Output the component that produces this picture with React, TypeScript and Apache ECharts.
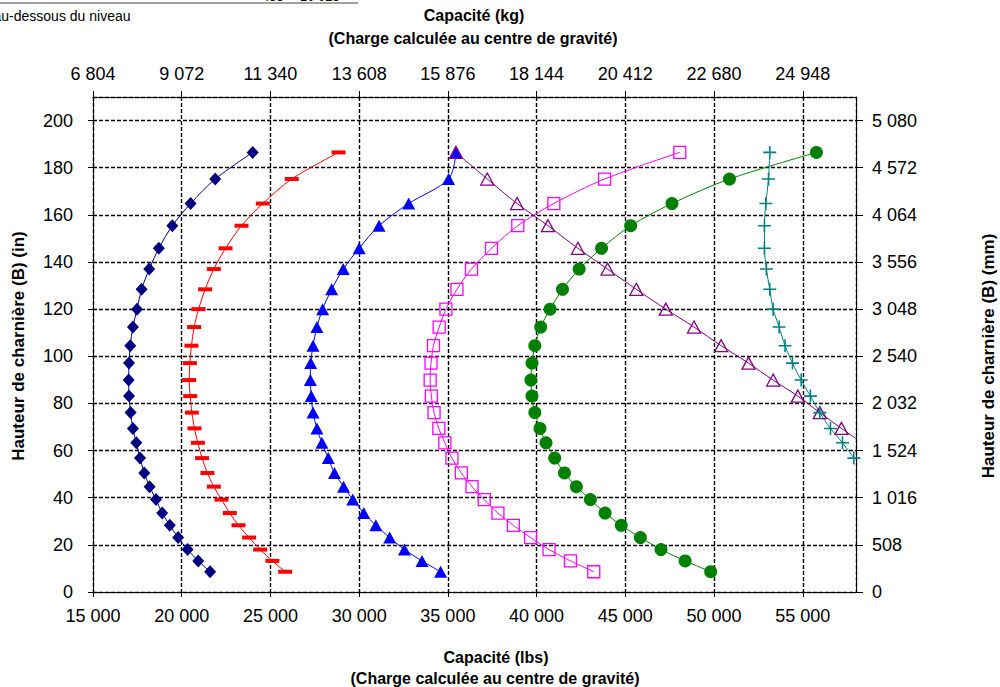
import React, { useEffect, useRef } from "react";
import * as echarts from "echarts";

// Hinge heights (in), bottom to top
const heightsIn = [8.6, 13.2, 18.0, 23.1, 28.3, 33.5, 39.2, 44.7, 50.5, 56.8, 63.3, 69.4, 76.1, 83.1, 89.9, 97.1, 104.5, 112.4, 120.0, 128.4, 137.0, 145.8, 155.4, 164.8, 175.2, 186.5];

// Capacities (lbs) for each series, same order as heights
const navyLbs = [21600, 20930, 20330, 19800, 19330, 18900, 18550, 18190, 17890, 17650, 17440, 17250, 17120, 17030, 17010, 17030, 17100, 17250, 17480, 17740, 18170, 18710, 19470, 20500, 21890, 24000];
const redLbs = [25830, 25110, 24420, 23800, 23200, 22710, 22240, 21810, 21450, 21150, 20910, 20720, 20570, 20480, 20420, 20460, 20550, 20700, 20950, 21320, 21810, 22470, 23370, 24570, 26200, 28840];
const blueLbs = [34590, 33540, 32550, 31720, 30940, 30260, 29640, 29120, 28610, 28260, 27900, 27620, 27400, 27300, 27250, 27270, 27400, 27620, 27940, 28450, 29100, 30000, 31120, 32790, 35040, 35470];
const magentaLbs = [43220, 41910, 40700, 39660, 38690, 37820, 37050, 36360, 35760, 35230, 34830, 34490, 34220, 34070, 34000, 34050, 34190, 34510, 34890, 35510, 36330, 37460, 38940, 40970, 43830, 48070];
const greenLbs = [49810, 48370, 47010, 45850, 44770, 43860, 43030, 42240, 41570, 41020, 40530, 40190, 39900, 39740, 39680, 39740, 39900, 40230, 40760, 41460, 42400, 43660, 45300, 47630, 50870, 55770];
// purple starts at heightsIn[10], teal at heightsIn[9]
const purpleOffset = 10;
const purpleLbs = [58350, 57180, 55960, 54720, 53330, 51940, 50400, 48870, 47280, 45620, 44000, 42330, 40640, 38900, 37220, 35450];
const tealOffset = 9;
const tealLbs = [57880, 57240, 56560, 55960, 55430, 54910, 54420, 54000, 53670, 53330, 53140, 52950, 52840, 52840, 52920, 53070, 53140];

// Tick labels
const lbsTickLabels = ["15 000", "20 000", "25 000", "30 000", "35 000", "40 000", "45 000", "50 000", "55 000"];
const kgTickLabels = ["6 804", "9 072", "11 340", "13 608", "15 876", "18 144", "20 412", "22 680", "24 948"];
const inTickLabels = ["0", "20", "40", "60", "80", "100", "120", "140", "160", "180", "200"];
const mmTickLabels = ["0", "508", "1 016", "1 524", "2 032", "2 540", "3 048", "3 556", "4 064", "4 572", "5 080"];

const X_MIN = 15000;
const X_MAX = 58000;
const X_STEP = 5000;
const Y_MIN = 0;
const Y_MAX = 210;
const Y_STEP = 20;

const FONT = '"Liberation Sans", Arial, Helvetica, sans-serif';
const PLUS = "path://M0,4.4h10v1.2h-10z M4.4,0h1.2v10h-1.2z";

function pairs(xs: number[], offset: number) {
  return xs.map((x, i) => [x, heightsIn[i + offset]]);
}

function mk(name: string, xs: number[], offset: number, color: string, symbol: string, size: any, hollow: boolean) {
  return {
    name,
    type: "line",
    data: pairs(xs, offset),
    smooth: 0.3,
    clip: true,
    symbol,
    symbolSize: size,
    showAllSymbol: true,
    lineStyle: { color, width: 1 },
    itemStyle: hollow
      ? { color: "rgba(0,0,0,0)", borderColor: color, borderWidth: 1.3 }
      : { color, borderWidth: 0 },
    emphasis: { disabled: true },
    xAxisIndex: 0,
    yAxisIndex: 0,
    z: 3,
  };
}

const pick = (labels: string[], min: number, step: number) => (v: number) => {
  const i = Math.round((v - min) / step);
  return labels[i] ?? "";
};

export default function App() {
  const ref = useRef<HTMLDivElement>(null);

  useEffect(() => {
    document.body.style.margin = "0";
    if (!ref.current) return;
    const chart = echarts.init(ref.current, undefined, { renderer: "svg" });

    const gridLine = { show: true, lineStyle: { color: "#000", type: [4, 2], width: 1.4 } };
    const axisLine = { show: true, onZero: false, lineStyle: { color: "#000", width: 1 } };
    const tickStyle = { color: "#000", width: 1 };
    const lab = { color: "#000", fontSize: 18, fontFamily: FONT, showMaxLabel: false };

    const option: any = {
      animation: false,
      backgroundColor: "#fff",
      grid: { left: 93, top: 97, width: 763, height: 495, containLabel: false },
      xAxis: [
        {
          type: "value", position: "bottom", min: X_MIN, max: X_MAX, interval: X_STEP,
          axisLine, axisTick: { show: true, length: 5, lineStyle: tickStyle },
          axisLabel: { ...lab, margin: 15, formatter: pick(lbsTickLabels, X_MIN, X_STEP) },
          splitLine: gridLine,
        },
        {
          type: "value", position: "top", min: X_MIN, max: X_MAX, interval: X_STEP,
          axisLine, axisTick: { show: true, length: 6, lineStyle: tickStyle },
          axisLabel: { ...lab, margin: 14, formatter: pick(kgTickLabels, X_MIN, X_STEP) },
          splitLine: { show: false },
        },
      ],
      yAxis: [
        {
          type: "value", position: "left", min: Y_MIN, max: Y_MAX, interval: Y_STEP,
          axisLine, axisTick: { show: true, length: 5, lineStyle: tickStyle },
          axisLabel: { ...lab, margin: 20, formatter: pick(inTickLabels, Y_MIN, Y_STEP) },
          splitLine: gridLine,
        },
        {
          type: "value", position: "right", min: Y_MIN, max: Y_MAX, interval: Y_STEP,
          axisLine, axisTick: { show: true, length: 7, lineStyle: tickStyle },
          axisLabel: { ...lab, margin: 16, formatter: pick(mmTickLabels, Y_MIN, Y_STEP) },
          splitLine: { show: false },
        },
      ],
      series: [
        mk("navy", navyLbs, 0, "#000080", "diamond", [12, 13], false),
        mk("red", redLbs, 0, "#FF0000", "rect", [14, 4], false),
        mk("blue", blueLbs, 0, "#0000FF", "triangle", [13, 12], false),
        mk("magenta", magentaLbs, 0, "#FF00FF", "rect", [12, 12], true),
        mk("purple", purpleLbs, purpleOffset, "#800080", "triangle", [13, 12], true),
        mk("green", greenLbs, 0, "#008000", "circle", 13, false),
        mk("teal", tealLbs, tealOffset, "#008080", PLUS, [13, 13], false),
      ],
      graphic: [
        { type: "line", shape: { x1: 0, y1: 3, x2: 358, y2: 3 }, style: { stroke: "#444", lineWidth: 1 } },
        { type: "text", x: 262, y: 3, style: { text: "455", font: `13px ${FONT}`, fill: "#000", textAlign: "left", textVerticalAlign: "bottom" } },
        { type: "text", x: 300, y: 3, style: { text: "10 025", font: `13px ${FONT}`, fill: "#000", textAlign: "left", textVerticalAlign: "bottom" } },
        { type: "text", x: -6.5, y: 16, style: { text: "au-dessous du niveau", font: `14px ${FONT}`, fill: "#000", textAlign: "left", textVerticalAlign: "middle" } },
        { type: "text", x: 474, y: 15, style: { text: "Capacité (kg)", font: `bold 16px ${FONT}`, fill: "#000", textAlign: "center", textVerticalAlign: "middle" } },
        { type: "text", x: 473, y: 38, style: { text: "(Charge calculée au centre de gravité)", font: `bold 16px ${FONT}`, fill: "#000", textAlign: "center", textVerticalAlign: "middle" } },
        { type: "text", x: 496, y: 657, style: { text: "Capacité (lbs)", font: `bold 16px ${FONT}`, fill: "#000", textAlign: "center", textVerticalAlign: "middle" } },
        { type: "text", x: 495, y: 678, style: { text: "(Charge calculée au centre de gravité)", font: `bold 16px ${FONT}`, fill: "#000", textAlign: "center", textVerticalAlign: "middle" } },
        { type: "text", x: 18, y: 346, rotation: Math.PI / 2, style: { text: "Hauteur de charnière (B) (in)", font: `bold 17px ${FONT}`, fill: "#000", textAlign: "center", textVerticalAlign: "middle" } },
        { type: "text", x: 988, y: 356, rotation: Math.PI / 2, style: { text: "Hauteur de charnière (B) (mm)", font: `bold 17px ${FONT}`, fill: "#000", textAlign: "center", textVerticalAlign: "middle" } },
      ],
    };

    chart.setOption(option);
    return () => chart.dispose();
  }, []);

  return <div ref={ref} style={{ width: 1000, height: 687 }} />;
}
